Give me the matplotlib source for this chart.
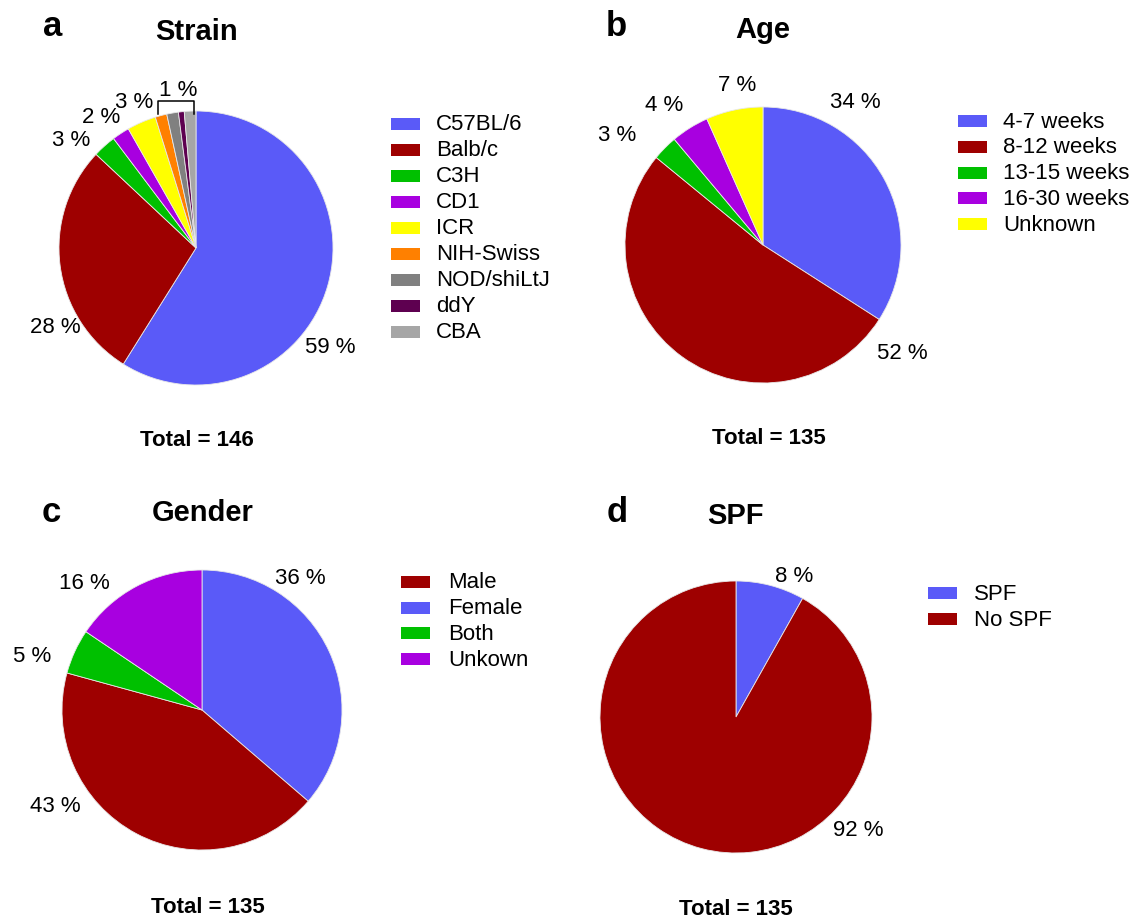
import matplotlib.pyplot as plt
from matplotlib.patches import Rectangle
from matplotlib.lines import Line2D

plt.rcParams['font.family'] = ['Liberation Sans', 'DejaVu Sans']

# Study counts per category (wedges run clockwise from 12 o'clock)
strain_names = ['C57BL/6', 'Balb/c', 'C3H', 'CD1', 'ICR', 'NIH-Swiss', 'NOD/shiLtJ', 'ddY', 'CBA']
strain_counts = [86, 41, 4, 3, 5, 2, 2, 1, 2]
strain_colors = ['#5a5af8', '#9e0000', '#00c000', '#a800e0', '#ffff00', '#ff8000', '#808080', '#5e0050', '#a6a6a6']

age_names = ['4-7 weeks', '8-12 weeks', '13-15 weeks', '16-30 weeks', 'Unknown']
age_counts = [46, 70, 4, 6, 9]
age_colors = ['#5a5af8', '#9e0000', '#00c000', '#a800e0', '#ffff00']

gender_names = ['Female', 'Male', 'Both', 'Unkown']
gender_counts = [49, 58, 7, 21]
gender_colors = ['#5a5af8', '#9e0000', '#00c000', '#a800e0']
gender_legend_order = ['Male', 'Female', 'Both', 'Unkown']

spf_names = ['SPF', 'No SPF']
spf_counts = [11, 124]
spf_colors = ['#5a5af8', '#9e0000']

W, H = 1137, 920
fig = plt.figure(figsize=(W / 100, H / 100), dpi=100)


def fx(x):
    return x / W


def fy(y):
    return 1 - y / H


def pct_labels(counts):
    total = sum(counts)
    return [f'{round(100 * c / total)} %' for c in counts]


def draw_pie(cx, cy, r, counts, colors, label_pos):
    ax = fig.add_axes([fx(cx - r), fy(cy + r), 2 * r / W, 2 * r / H])
    ax.pie(counts, colors=colors, startangle=90, counterclock=False, radius=1,
           wedgeprops=dict(edgecolor='#e8e8e8', linewidth=0.6))
    ax.set_xlim(-1, 1)
    ax.set_ylim(-1, 1)
    ax.set_aspect('equal')
    ax.axis('off')
    labels = pct_labels(counts)
    for i, (x, y) in label_pos.items():
        ax.text(x, y, labels[i], ha='center', va='center', fontsize=16)
    return ax, labels


def draw_legend(x0, y0, step, names, colors, text_x):
    for k, (name, col) in enumerate(zip(names, colors)):
        yc = y0 + k * step
        fig.add_artist(Rectangle((fx(x0), fy(yc + 6)), 29 / W, 12 / H,
                                 facecolor=col, edgecolor='none', transform=fig.transFigure))
        fig.text(fx(text_x), fy(yc), name, ha='left', va='center', fontsize=16)


def headings(letter, lx, ly, title, tx, ty, total, ttx, tty):
    fig.text(fx(lx), fy(ly), letter, ha='center', va='center', fontsize=25, fontweight='bold')
    fig.text(fx(tx), fy(ty), title, ha='center', va='center', fontsize=21, fontweight='bold')
    fig.text(fx(ttx), fy(tty), f'Total = {total}', ha='center', va='center',
             fontsize=16, fontweight='bold')


# a: strain
ax_a, lab_a = draw_pie(196, 249, 137, strain_counts, strain_colors,
                       {0: (0.98, -0.72), 1: (-1.03, -0.57), 2: (-0.91, 0.79),
                        3: (-0.69, 0.96), 4: (-0.45, 1.07)})
# the four smallest strains share one bracketed label
ax_a.add_line(Line2D([-0.277, -0.277, -0.015, -0.015], [0.978, 1.073, 1.073, 0.978],
                     color='black', linewidth=1.1, clip_on=False))
ax_a.text(-0.13, 1.16, lab_a[5], ha='center', va='center', fontsize=16)
draw_legend(391, 125, 26, strain_names, strain_colors, 436)
headings('a', 53, 26, 'Strain', 197, 32, sum(strain_counts), 197, 441)

# b: age
draw_pie(763, 246, 138, age_counts, age_colors,
         {0: (0.67, 1.04), 1: (1.01, -0.78), 2: (-1.06, 0.80),
          3: (-0.72, 1.02), 4: (-0.19, 1.16)})
draw_legend(958, 122, 25.8, age_names, age_colors, 1003)
headings('b', 616, 26, 'Age', 763, 30, sum(age_counts), 769, 439)

# c: gender
draw_pie(202, 711, 140, gender_counts, gender_colors,
         {0: (0.70, 0.95), 1: (-1.05, -0.68), 2: (-1.21, 0.39), 3: (-0.84, 0.91)})
leg_colors = [gender_colors[gender_names.index(n)] for n in gender_legend_order]
draw_legend(401, 583, 25.7, gender_legend_order, leg_colors, 448)
headings('c', 51, 512, 'Gender', 203, 513, sum(gender_counts), 208, 908)

# d: SPF
draw_pie(736, 718, 136, spf_counts, spf_colors,
         {0: (0.43, 1.04), 1: (0.90, -0.83)})
draw_legend(928, 594, 26, spf_names, spf_colors, 974)
headings('d', 617, 512, 'SPF', 736, 516, sum(spf_counts), 736, 910)

fig.savefig('out.png', dpi=100, facecolor='white')
